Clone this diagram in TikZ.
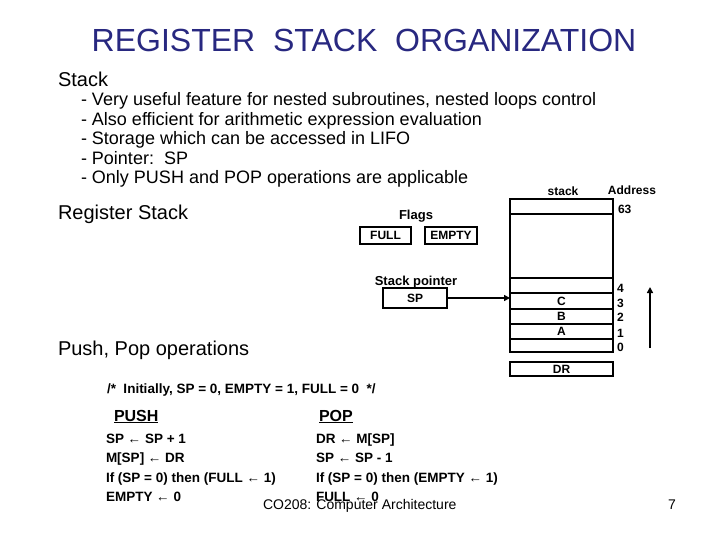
\documentclass[tikz,border=0pt]{standalone}
\usepackage{fontspec}
\setmainfont{Liberation Sans}
\usetikzlibrary{arrows.meta}
\definecolor{titleblue}{RGB}{40,40,128}
\newcommand\myfs[1]{\fontsize{#1}{#1}\selectfont}
\begin{document}
\begin{tikzpicture}[x=1pt,y=-1pt,
  txt/.style={anchor=base west,inner sep=0pt,outer sep=0pt},
  body/.style={txt,font=\myfs{18}},
  head/.style={txt,font=\myfs{20}},
  code/.style={txt,font=\bfseries\myfs{13.5}},
  lbl/.style={inner sep=0pt,outer sep=0pt,font=\bfseries\myfs{12}},
  cell/.style={draw,line width=2.1pt,inner sep=0pt,outer sep=0pt,anchor=north west,
     minimum width=103pt,font=\bfseries\myfs{12}},
  flagbox/.style={draw,line width=2.1pt,inner sep=0pt,outer sep=0pt,anchor=north west,font=\bfseries\myfs{12}},
  arr/.style={line width=2pt,-{Triangle[length=6pt,width=6pt]}}
]
\useasboundingbox (0,0) rectangle (720,540);
% title
\node[txt,anchor=base,font=\myfs{32},text=titleblue] (title) at (364,52) {REGISTER\ \ STACK\ \ ORGANIZATION};
% bullets
\node[head] (stk) at (58,87) {Stack};
\node[body] (b1) at (81,106) {- Very useful feature for nested subroutines, nested loops control};
\node[body] (b2) at (81,125.5) {- Also efficient for arithmetic expression evaluation};
\node[body] (b3) at (81,145) {- Storage which can be accessed in LIFO};
\node[body] (b4) at (81,164.5) {- Pointer:\ \ SP};
\node[body] (b5) at (81,184) {- Only PUSH and POP operations are applicable};
\node[head] (rs) at (58,219) {Register Stack};
\node[head] (pp) at (58,355) {Push, Pop operations};
% stack
\node[lbl,anchor=base] (stacklbl) at (563,196) {stack};
\node[lbl,anchor=base] (addr) at (632,195) {Address};
\node[cell,minimum height=15pt] (r63) at (510,199) {};
\node[cell,minimum height=64pt] (rmid) at (510,214) {};
\node[cell,minimum height=15pt] (r4) at (510,278) {};
\node[cell,minimum height=16pt] (r3) at (510,293) {C};
\node[cell,minimum height=15pt] (r2) at (510,309) {B};
\node[cell,minimum height=15pt] (r1) at (510,324) {A};
\node[cell,minimum height=13pt] (r0) at (510,339) {};
\node[cell,minimum height=14pt] (dr) at (510,362) {DR};
\node[lbl,anchor=base west] (a63) at (618,214) {63};
\node[lbl,anchor=base west] (a4) at (617,292) {4};
\node[lbl,anchor=base west] (a3) at (617,307) {3};
\node[lbl,anchor=base west] (a2) at (617,321) {2};
\node[lbl,anchor=base west] (a1) at (617,337) {1};
\node[lbl,anchor=base west] (a0) at (617,351) {0};
\coordinate (upS) at (650,348);
\coordinate (upE) at (650,287);
\draw[arr] (upS) -- (upE);
% flags
\node[lbl,anchor=base,font=\bfseries\myfs{13}] (flags) at (416,220) {Flags};
\node[flagbox,minimum width=51pt,minimum height=17pt] (full) at (360,227) {FULL};
\node[flagbox,minimum width=52pt,minimum height=17pt] (empty) at (425,227) {EMPTY};
\node[lbl,anchor=base,font=\bfseries\myfs{13}] (spl) at (416,285) {Stack pointer};
\node[flagbox,minimum width=64pt,minimum height=20pt] (sp) at (383,288) {SP};
\draw[arr] (sp.east) -- (r3.west |- sp.east);
% operations
\node[code] (cmt) at (107,393) {/*\ \ Initially, SP = 0, EMPTY = 1, FULL = 0\ \ */};
\node[txt,font=\bfseries\myfs{16}] (push) at (114,421) {\underline{PUSH}};
\node[txt,font=\bfseries\myfs{16}] (pop) at (319,421) {\underline{POP}};
\node[code] (p1) at (106,443) {SP ← SP + 1};
\node[code] (p2) at (106,462.5) {M[SP] ← DR};
\node[code] (p3) at (106,482) {If (SP = 0) then (FULL ← 1)};
\node[code] (p4) at (106,501.5) {EMPTY ← 0};
\node[code] (q1) at (316,443) {DR ← M[SP]};
\node[code] (q2) at (316,462.5) {SP ← SP - 1};
\node[code] (q3) at (316,482) {If (SP = 0) then (EMPTY ← 1)};
\node[code] (q4) at (316,501.5) {FULL ← 0};
% footer
\node[txt,font=\myfs{14}] (foot) at (263,509) {CO208: Computer Architecture};
\node[txt,font=\myfs{14}] (pg) at (668,509) {7};
\end{tikzpicture}
\end{document}
